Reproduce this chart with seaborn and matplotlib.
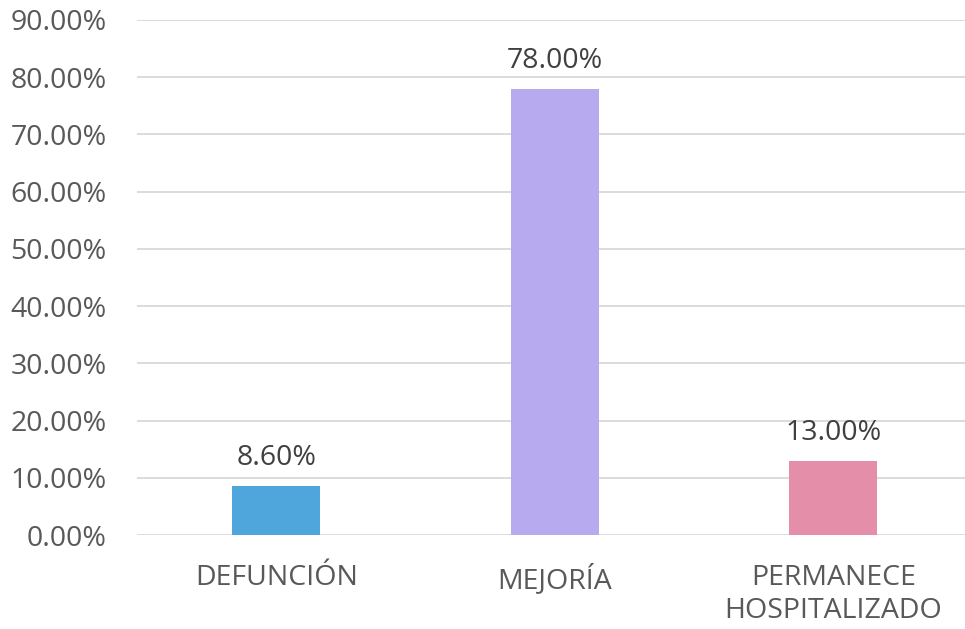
import matplotlib
matplotlib.use("Agg")
import matplotlib.pyplot as plt
import seaborn as sns
import pandas as pd
from matplotlib.ticker import FuncFormatter

categories = ["DEFUNCIÓN", "MEJORÍA", "PERMANECE\nHOSPITALIZADO"]
values = [8.60, 78.00, 13.00]
colors = ["#4EA6DC", "#B8AAEE", "#E58EAA"]
yticks = [0, 10, 20, 30, 40, 50, 60, 70, 80, 90]

sns.set_theme(style="white")
plt.rcParams["font.family"] = ["Open Sans", "DejaVu Sans"]

W, H = 965, 629
fig = plt.figure(figsize=(W / 100, H / 100), dpi=100)
ax = fig.add_axes([137 / W, 1 - 535 / H, 835.5 / W, (535 - 20) / H])

df = pd.DataFrame({"cat": categories, "val": values})
sns.barplot(data=df, x="cat", y="val", hue="cat", palette=colors, legend=False,
            width=0.316, ax=ax, saturation=1, linewidth=0)

ax.set_ylim(0, 90)
ax.set_xlim(-0.5, 2.5)
ax.set_yticks(yticks)
ax.yaxis.set_major_formatter(FuncFormatter(lambda v, p: f"{v:.2f}%"))
ax.grid(axis="y", color="#D9D9D9", linewidth=1.3)
ax.set_axisbelow(True)
for s in ax.spines.values():
    s.set_visible(False)
ax.tick_params(axis="both", length=0, labelsize=20.5, colors="#595959")
ax.tick_params(axis="y", pad=22)
ax.tick_params(axis="x", pad=21)
for lbl in ax.get_xticklabels():
    lbl.set_linespacing(1.25)
ax.set_xlabel("")
ax.set_ylabel("")

for i, v in enumerate(values):
    ax.annotate(f"{v:.2f}%", (i, v), xytext=(0, 10), textcoords="offset points",
                ha="center", va="bottom", fontsize=20.5, color="#404040")

fig.savefig("out.png", dpi=100)
